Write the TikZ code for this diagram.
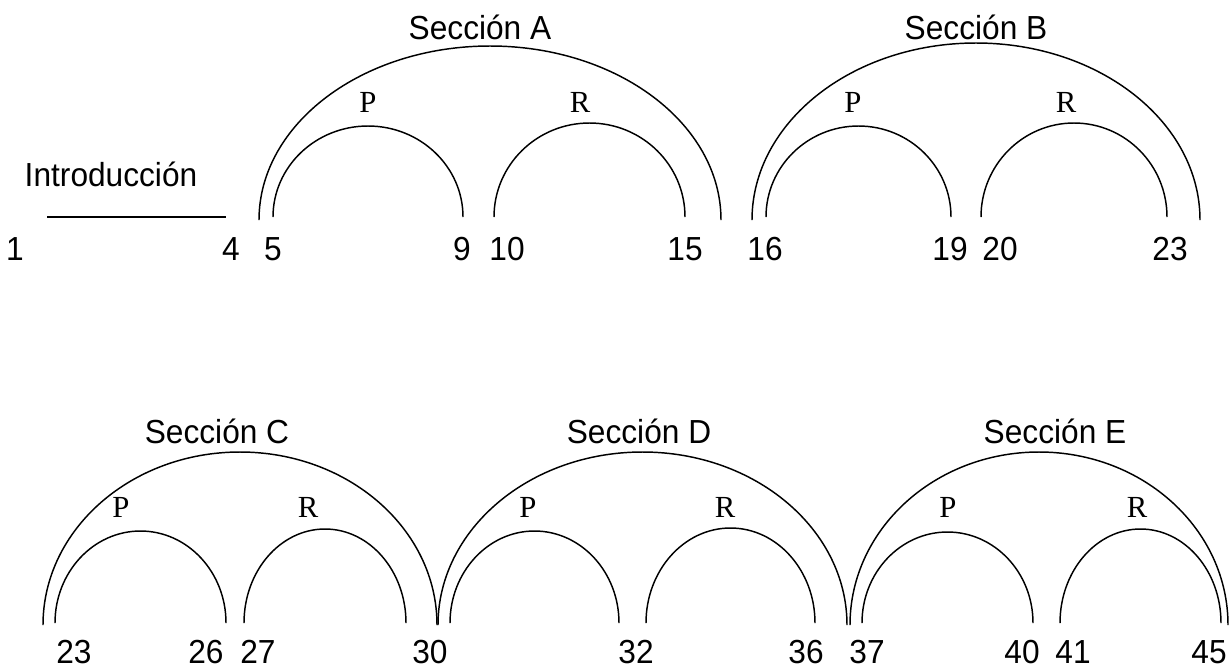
\documentclass[tikz,border=0pt]{standalone}
\usepackage{fontspec}
\setmainfont[FakeStretch=0.95]{Liberation Sans}
\newfontfamily\serifP{Liberation Serif}
\newcommand\harc[4]{\draw[arcline] (#1,#3) arc[start angle=180,end angle=0,x radius={0.375pt*(#2-#1)},y radius={0.75pt*(#3-#4)}];}
\begin{document}
\begin{tikzpicture}[x=0.75pt,y=-0.75pt,
  arcline/.style={line width=1.1pt},
  num/.style={anchor=base,inner sep=0pt,font=\fontsize{25}{28}\selectfont},
  sec/.style={anchor=base,inner sep=0pt,font=\fontsize{25}{28}\selectfont},
  pr/.style={anchor=base,inner sep=0pt,font=\serifP\fontsize{23}{26}\selectfont}]
\useasboundingbox (0,0) rectangle (1232,669);
% top row arcs
\harc{259}{721}{220}{46}
\harc{273}{463}{217}{126}
\harc{494}{685}{217}{123}
\harc{752}{1200}{220}{43}
\harc{766}{951}{217}{126}
\harc{981}{1167}{217}{123}
% bottom row arcs
\harc{43}{437}{625}{452}
\harc{55}{226}{623}{531}
\harc{244}{406}{623}{529}
\harc{438}{847}{625}{452}
\harc{450}{619}{623}{531}
\harc{646}{815}{623}{528}
\harc{850}{1228}{625}{452}
\harc{862}{1033}{623}{532}
\harc{1060}{1221}{623}{529}
% introduction
\node[sec] (intro) at (111,186) {Introducción};
\coordinate (il) at (47,217);
\coordinate (ir) at (226,217);
\draw[arcline] (il) -- (ir);
% section titles
\node[sec] (sA) at (480,39) {Sección A};
\node[sec] (sB) at (976,39) {Sección B};
\node[sec] (sC) at (217,443) {Sección C};
\node[sec] (sD) at (639,443) {Sección D};
\node[sec] (sE) at (1055,443) {Sección E};
% P R labels
\node[pr] (pA) at (368,112) {P};
\node[pr] (rA) at (580,112) {R};
\node[pr] (pB) at (853,112) {P};
\node[pr] (rB) at (1066,112) {R};
\node[pr] (pC) at (121,517) {P};
\node[pr] (rC) at (308,517) {R};
\node[pr] (pD) at (528,517) {P};
\node[pr] (rD) at (725,517) {R};
\node[pr] (pE) at (948,517) {P};
\node[pr] (rE) at (1137,517) {R};
% numbers top
\node[num] (n1) at (15,260) {1};
\node[num] (n4) at (231,260) {4};
\node[num] (n5) at (273,260) {5};
\node[num] (n9) at (462,260) {9};
\node[num] (n10) at (507,260) {10};
\node[num] (n15) at (685,260) {15};
\node[num] (n16) at (765,260) {16};
\node[num] (n19) at (950,260) {19};
\node[num] (n20) at (1000,260) {20};
\node[num] (n23a) at (1170,260) {23};
% numbers bottom
\node[num] (n23b) at (74,663) {23};
\node[num] (n26) at (206,663) {26};
\node[num] (n27) at (258,663) {27};
\node[num] (n30) at (430,663) {30};
\node[num] (n32) at (636,663) {32};
\node[num] (n36) at (806,663) {36};
\node[num] (n37) at (867,663) {37};
\node[num] (n40) at (1022,663) {40};
\node[num] (n41) at (1073,663) {41};
\node[num] (n45) at (1209,663) {45};
\end{tikzpicture}
\end{document}
